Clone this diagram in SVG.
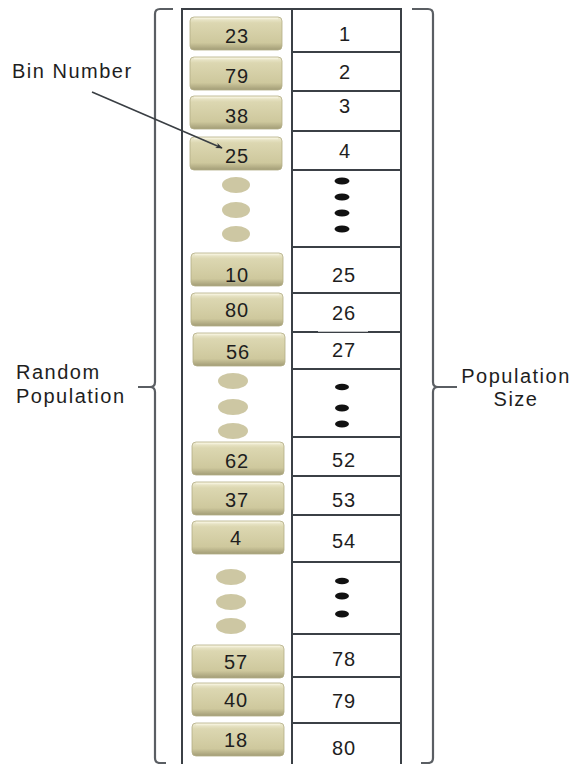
<svg xmlns="http://www.w3.org/2000/svg" width="571" height="764" viewBox="0 0 571 764">
  <style>
    .grid { stroke: #3b4046; stroke-width: 2; fill: none; }
    .brace { stroke: #5a5e63; stroke-width: 2.2; fill: none; }
    .btn { fill: url(#btnFill); stroke: #b3ad86; stroke-width: 0.8; }
    .btnHi { stroke: #f6f3df; stroke-width: 1.5; fill: none; opacity: 0.8; }
    .num { font-family: "Liberation Sans", Arial, sans-serif; font-size: 20px; letter-spacing: 1px; fill: #1e1e1e; text-anchor: middle; }
    .lbl { font-family: "Liberation Sans", Arial, sans-serif; font-size: 20px; letter-spacing: 1.5px; fill: #1e1e1e; }
    .dot { fill: #cdc7a3; }
    .bdot { fill: #111; }
    .conn { stroke: #3a3f44; stroke-width: 1.6; fill: none; }
  </style>
  <defs>
    <linearGradient id="btnFill" x1="0" y1="0" x2="0" y2="1">
      <stop offset="0" stop-color="#f1eed6"/>
      <stop offset="0.18" stop-color="#dcd7b1"/>
      <stop offset="0.78" stop-color="#cec89d"/>
      <stop offset="1" stop-color="#a29c76"/>
    </linearGradient>
    <marker id="arrowHead" viewBox="0 0 10 10" refX="9" refY="5" markerWidth="7" markerHeight="7" orient="auto" markerUnits="userSpaceOnUse">
      <path d="M0,1 L10,5 L0,9 L3,5 Z" fill="#2e3237"/>
    </marker>
    <g id="button">
      <rect class="btn" x="0" y="0" width="92" height="33" rx="4"/>
      <line class="btnHi" x1="4" y1="1.5" x2="88" y2="1.5"/>
    </g>
  </defs>

  <rect width="571" height="764" fill="#ffffff"/>

  <!-- left brace -->
  <path class="brace" d="M173,9 L160,9 Q155,9 155,14 L155,382 Q155,387 150,387 L138,387 M150,387 Q155,387 155,392 L155,758 Q155,763 160,763 L166,763"/>
  <!-- right brace -->
  <path class="brace" d="M412,9 L428,9 Q433,9 433,14 L433,382 Q433,387 438,387 L457,387 M438,387 Q433,387 433,392 L433,758 Q433,763 428,763 L421,763"/>

  <!-- table frame -->
  <g id="table">
    <path class="grid" d="M182,764 L182,9 L401,9 L401,764 M292,9 L292,764"/>
    <path class="grid" d="M292,52 H401 M292,91 H401 M292,131 H401 M292,170 H401 M292,247 H401 M292,293 H401 M292,332 H401 M292,369 H401 M292,437 H401 M292,476 H401 M292,515 H401 M292,562 H401 M292,634 H401 M292,677 H401 M292,723 H401"/>
    <line x1="318" y1="331.2" x2="368" y2="331.2" stroke="#ffffff" stroke-width="1"/>
  </g>

  <!-- population rows: bin button + index -->
  <g id="row1"><use href="#button" x="190" y="17"/><text class="num" x="237" y="43">23</text><text class="num" x="345" y="41">1</text></g>
  <g id="row2"><use href="#button" x="190" y="57"/><text class="num" x="237" y="83">79</text><text class="num" x="345" y="79">2</text></g>
  <g id="row3"><use href="#button" x="190" y="96"/><text class="num" x="237" y="123">38</text><text class="num" x="345" y="113">3</text></g>
  <g id="row4"><use href="#button" x="190" y="137"/><text class="num" x="237" y="163">25</text><text class="num" x="345" y="158">4</text></g>

  <g id="gap1">
    <ellipse class="dot" cx="236" cy="185" rx="14" ry="8"/>
    <ellipse class="dot" cx="236" cy="210" rx="14" ry="8"/>
    <ellipse class="dot" cx="236" cy="234" rx="14" ry="8"/>
    <ellipse class="bdot" cx="342" cy="181" rx="7.5" ry="3.5"/>
    <ellipse class="bdot" cx="342" cy="197" rx="7.5" ry="3.5"/>
    <ellipse class="bdot" cx="342" cy="213" rx="7.5" ry="3.5"/>
    <ellipse class="bdot" cx="342" cy="229" rx="7.5" ry="3.5"/>
  </g>

  <g id="row25"><use href="#button" x="191" y="253"/><text class="num" x="237" y="282">10</text><text class="num" x="344" y="282">25</text></g>
  <g id="row26"><use href="#button" x="191" y="293"/><text class="num" x="237" y="317">80</text><text class="num" x="344" y="320">26</text></g>
  <g id="row27"><use href="#button" x="193" y="333"/><text class="num" x="238" y="359">56</text><text class="num" x="344" y="357">27</text></g>

  <g id="gap2">
    <ellipse class="dot" cx="233" cy="381" rx="15" ry="8"/>
    <ellipse class="dot" cx="233" cy="407" rx="15" ry="8"/>
    <ellipse class="dot" cx="233" cy="431" rx="15" ry="8"/>
    <ellipse class="bdot" cx="342" cy="387" rx="7" ry="3.2"/>
    <ellipse class="bdot" cx="342" cy="408" rx="7" ry="3.5"/>
    <ellipse class="bdot" cx="342" cy="424" rx="7" ry="3.5"/>
  </g>

  <g id="row52"><use href="#button" x="192" y="442"/><text class="num" x="237" y="468">62</text><text class="num" x="344" y="467">52</text></g>
  <g id="row53"><use href="#button" x="192" y="482"/><text class="num" x="237" y="507">37</text><text class="num" x="344" y="507">53</text></g>
  <g id="row54"><use href="#button" x="192" y="521"/><text class="num" x="236" y="545">4</text><text class="num" x="344" y="548">54</text></g>

  <g id="gap3">
    <ellipse class="dot" cx="231" cy="577" rx="15" ry="8"/>
    <ellipse class="dot" cx="231" cy="602" rx="15" ry="8"/>
    <ellipse class="dot" cx="231" cy="626" rx="15" ry="8"/>
    <ellipse class="bdot" cx="342" cy="581" rx="7" ry="3.2"/>
    <ellipse class="bdot" cx="342" cy="596" rx="7" ry="3.5"/>
    <ellipse class="bdot" cx="342" cy="614" rx="7" ry="3.5"/>
  </g>

  <g id="row78"><use href="#button" x="192" y="645"/><text class="num" x="236" y="669">57</text><text class="num" x="344" y="666">78</text></g>
  <g id="row79"><use href="#button" x="192" y="683"/><text class="num" x="236" y="707">40</text><text class="num" x="344" y="708">79</text></g>
  <g id="row80"><use href="#button" x="192" y="723"/><text class="num" x="236" y="747">18</text><text class="num" x="344" y="755">80</text></g>

  <!-- labels -->
  <g id="binLabel"><text class="lbl" x="12" y="78">Bin Number</text></g>
  <g id="randomLabel">
    <text class="lbl" x="16" y="379">Random</text>
    <text class="lbl" x="16" y="403">Population</text>
  </g>
  <g id="sizeLabel">
    <text class="lbl" x="516" y="383" text-anchor="middle">Population</text>
    <text class="lbl" x="516" y="406" text-anchor="middle">Size</text>
  </g>

  <!-- connectors -->
  <g id="connectors">
    <line class="conn" x1="92" y1="92" x2="222" y2="148" marker-end="url(#arrowHead)"/>
  </g>
</svg>
